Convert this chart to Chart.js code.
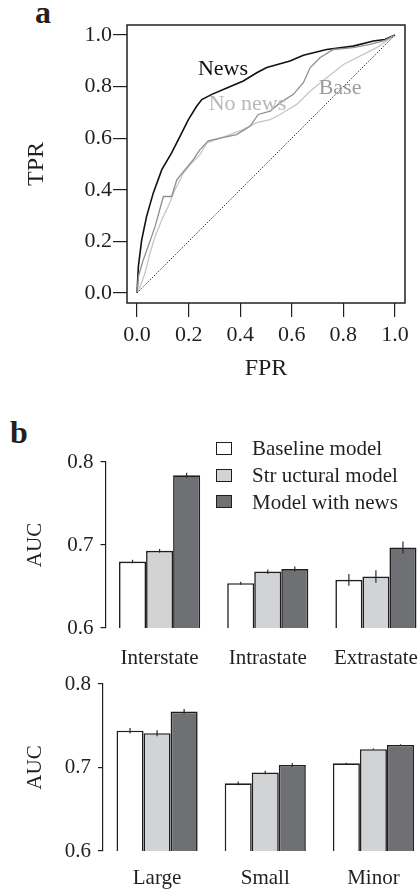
<!DOCTYPE html>
<html>
<head>
<meta charset="utf-8">
<script src="https://cdn.jsdelivr.net/npm/chart.js@4.4.1/dist/chart.umd.min.js"></script>
<style>
  html, body { margin: 0; padding: 0; background: #fff; overflow: hidden; width: 419px; height: 890px; }
  body { position: relative; font-family: "Liberation Serif", "Times New Roman", serif; color: #231f20; }
  canvas { position: absolute; left: 0; }
  .tag { position: absolute; font-weight: bold; font-size: 32px; line-height: 1; }
  .leg-box { position: absolute; left: 216px; width: 14px; height: 11px; border: 1.5px solid #1e1e1e; }
  .leg-text { position: absolute; left: 252px; height: 26px; line-height: 26px; font-size: 21px; white-space: nowrap; }
</style>
</head>
<body>
<div class="tag" style="left:35px; top:-4px;">a</div>
<div class="tag" style="left:10px; top:416px;">b</div>
<canvas id="rocChart" width="419" height="390" style="top:0;"></canvas>
<canvas id="typeChart" width="440" height="270" style="top:400px;"></canvas>
<canvas id="sizeChart" width="440" height="240" style="top:650px;"></canvas>
<div id="legend"></div>
<script>
// ---- panel a: ROC curves ----
const fprTicks = [0, 0.2, 0.4, 0.6, 0.8, 1.0];
const tprTicks = [0, 0.2, 0.4, 0.6, 0.8, 1.0];

const newsFpr = [0, 0.005, 0.018, 0.037, 0.063, 0.096, 0.134, 0.167, 0.199, 0.231, 0.251, 0.29, 0.348, 0.412, 0.464, 0.503, 0.593, 0.645, 0.735, 0.838, 0.916, 0.961, 1];
const newsTpr = [0, 0.102, 0.206, 0.297, 0.388, 0.478, 0.543, 0.608, 0.672, 0.724, 0.75, 0.77, 0.795, 0.822, 0.854, 0.874, 0.899, 0.922, 0.944, 0.957, 0.977, 0.983, 1];

const baseFpr = [0, 0.005, 0.024, 0.05, 0.07, 0.102, 0.134, 0.154, 0.186, 0.218, 0.244, 0.276, 0.322, 0.386, 0.438, 0.47, 0.516, 0.554, 0.606, 0.645, 0.671, 0.709, 0.761, 0.838, 0.903, 0.955, 1];
const baseTpr = [0, 0.063, 0.128, 0.2, 0.258, 0.374, 0.374, 0.439, 0.478, 0.517, 0.556, 0.59, 0.6, 0.614, 0.646, 0.692, 0.705, 0.737, 0.77, 0.815, 0.873, 0.912, 0.944, 0.951, 0.964, 0.977, 1];

const noNewsFpr = [0, 0.012, 0.031, 0.05, 0.07, 0.096, 0.121, 0.147, 0.18, 0.212, 0.244, 0.27, 0.309, 0.36, 0.412, 0.464, 0.516, 0.554, 0.619, 0.671, 0.735, 0.8, 0.864, 0.929, 1];
const noNewsTpr = [0, 0.025, 0.077, 0.154, 0.219, 0.284, 0.336, 0.4, 0.465, 0.504, 0.536, 0.582, 0.595, 0.614, 0.634, 0.66, 0.672, 0.692, 0.731, 0.782, 0.834, 0.886, 0.918, 0.951, 1];

const chanceFpr = [0, 1];
const chanceTpr = [0, 1];

// ---- panel b: AUC bars ----
const seriesNames = ['Baseline model', 'Str uctural model', 'Model with news'];
const aucTicks = [0.6, 0.7, 0.8];

const typeGroups = ['Interstate', 'Intrastate', 'Extrastate'];
const typeBaseline = [0.680, 0.654, 0.658];
const typeStructural = [0.693, 0.668, 0.662];
const typeNews = [0.784, 0.671, 0.697];
const typeBaselineErr = [0.0022, 0.0018, 0.0070];
const typeStructuralErr = [0.0022, 0.0025, 0.0075];
const typeNewsErr = [0.0030, 0.0030, 0.0072];

const sizeGroups = ['Large', 'Small', 'Minor'];
const sizeBaseline = [0.744, 0.681, 0.705];
const sizeStructural = [0.741, 0.694, 0.722];
const sizeNews = [0.767, 0.703, 0.727];
const sizeBaselineErr = [0.0034, 0.0022, 0.0008];
const sizeStructuralErr = [0.0036, 0.0022, 0.0008];
const sizeNewsErr = [0.0030, 0.0025, 0.0008];

const INK = '#231f20';
const SERIF = '"Liberation Serif", "Times New Roman", serif';
const barFills = ['#ffffff', '#d2d3d5', '#6f7074'];

function toPoints(xs, ys) {
    return xs.map((x, i) => ({ x: x, y: ys[i] }));
}

// frame round the plot area (R box())
const framePlugin = {
    id: 'frame',
    afterDraw(chart) {
        const a = chart.chartArea;
        const ctx = chart.ctx;
        ctx.save();
        ctx.strokeStyle = INK;
        ctx.lineWidth = 1.5;
        ctx.strokeRect(a.left, a.top, a.right - a.left, a.bottom - a.top);
        ctx.restore();
    }
};

// curve names written on the plot
const curveLabelPlugin = {
    id: 'curveLabels',
    afterDatasetsDraw(chart, args, opts) {
        const ctx = chart.ctx;
        ctx.save();
        ctx.font = '22px ' + SERIF;
        ctx.textAlign = 'center';
        ctx.textBaseline = 'middle';
        opts.items.forEach(item => {
            ctx.fillStyle = item.color;
            ctx.fillText(item.text, chart.scales.x.getPixelForValue(item.x), chart.scales.y.getPixelForValue(item.y));
        });
        ctx.restore();
    }
};

new Chart(document.getElementById('rocChart'), {
    type: 'scatter',
    data: {
        datasets: [
            { label: 'Chance', data: toPoints(chanceFpr, chanceTpr), borderColor: '#333', borderWidth: 1, borderDash: [1.5, 1.5] },
            { label: 'Base', data: toPoints(baseFpr, baseTpr), borderColor: '#8e8e8e', borderWidth: 1.3 },
            { label: 'No news', data: toPoints(noNewsFpr, noNewsTpr), borderColor: '#c6c6c6', borderWidth: 1.3 },
            { label: 'News', data: toPoints(newsFpr, newsTpr), borderColor: '#111', borderWidth: 1.6 }
        ].map(ds => Object.assign(ds, { showLine: true, pointRadius: 0, fill: false, tension: 0 }))
    },
    options: {
        responsive: false,
        animation: false,
        layout: { padding: { top: 25, right: 14, left: 0, bottom: 0 } },
        plugins: {
            legend: { display: false },
            tooltip: { enabled: false },
            curveLabels: {
                items: [
                    { text: 'News', x: 0.333, y: 0.867, color: '#111' },
                    { text: 'No news', x: 0.428, y: 0.731, color: '#b8b8b8' },
                    { text: 'Base', x: 0.787, y: 0.793, color: '#9c9c9c' }
                ]
            }
        },
        scales: {
            x: {
                type: 'linear', min: -0.039, max: 1.039,
                afterBuildTicks: s => { s.ticks = fprTicks.map(v => ({ value: v })); },
                afterFit: s => { s.height = 87; },
                ticks: { callback: v => v.toFixed(1), color: INK, font: { family: SERIF, size: 22 }, padding: 5, maxRotation: 0 },
                grid: { drawOnChartArea: false, drawTicks: true, tickLength: 14, color: INK, lineWidth: 1.2 },
                border: { display: false },
                title: { display: true, text: 'FPR', color: INK, font: { family: SERIF, size: 24 }, padding: { top: 0, bottom: 7 } }
            },
            y: {
                type: 'linear', min: -0.039, max: 1.039,
                afterBuildTicks: s => { s.ticks = tprTicks.map(v => ({ value: v })); },
                afterFit: s => { s.width = 127; },
                ticks: { callback: v => v.toFixed(1), color: INK, font: { family: SERIF, size: 22 }, padding: 1 },
                grid: { drawOnChartArea: false, drawTicks: true, tickLength: 14, color: INK, lineWidth: 1.2 },
                border: { display: false },
                title: { display: true, text: 'TPR', color: INK, font: { family: SERIF, size: 24 }, padding: { top: 22, bottom: 0 } }
            }
        }
    },
    plugins: [framePlugin, curveLabelPlugin]
});

// vertical error segments on each bar
const errorBarPlugin = {
    id: 'errorBars',
    afterDatasetsDraw(chart) {
        const ctx = chart.ctx;
        const y = chart.scales.y;
        ctx.save();
        ctx.strokeStyle = '#2a2a2a';
        ctx.lineWidth = 1.2;
        chart.data.datasets.forEach((ds, di) => {
            const meta = chart.getDatasetMeta(di);
            ds.errors.forEach((e, i) => {
                const x = meta.data[i].x;
                ctx.beginPath();
                ctx.moveTo(x, y.getPixelForValue(ds.data[i] - e));
                ctx.lineTo(x, y.getPixelForValue(ds.data[i] + e));
                ctx.stroke();
            });
        });
        ctx.restore();
    }
};

function makeBars(id, groups, values, errors, box) {
    new Chart(document.getElementById(id), {
        type: 'bar',
        data: {
            labels: groups,
            datasets: values.map((vals, k) => ({
                label: seriesNames[k],
                data: vals,
                errors: errors[k],
                backgroundColor: barFills[k],
                borderColor: '#1e1e1e',
                borderWidth: 1.6,
                borderSkipped: false,
                barPercentage: 1.0,
                categoryPercentage: 0.75
            }))
        },
        options: {
            responsive: false,
            animation: false,
            layout: { padding: { top: box.top, right: box.right, left: 0, bottom: 0 } },
            plugins: { legend: { display: false }, tooltip: { enabled: false } },
            scales: {
                x: {
                    afterFit: s => { s.height = box.xHeight; },
                    ticks: { color: INK, font: { family: SERIF, size: 21 }, padding: box.labelPad, maxRotation: 0 },
                    grid: { display: false },
                    border: { display: false }
                },
                y: {
                    min: 0.6, max: 0.8,
                    afterBuildTicks: s => { s.ticks = aucTicks.map(v => ({ value: v })); },
                    afterFit: s => { s.width = box.left; },
                    ticks: { callback: v => v.toFixed(1), color: INK, font: { family: SERIF, size: 21 }, padding: 7 },
                    grid: { drawOnChartArea: false, drawTicks: true, tickLength: 5, color: INK, lineWidth: 1.2 },
                    border: { display: true, color: INK, width: 1.2 },
                    title: { display: true, text: 'AUC', color: INK, font: { family: SERIF, size: 21 }, padding: { top: 23, bottom: 0 } }
                }
            }
        },
        plugins: [errorBarPlugin]
    });
}

makeBars('typeChart', typeGroups,
    [typeBaseline, typeStructural, typeNews],
    [typeBaselineErr, typeStructuralErr, typeNewsErr],
    { top: 62, right: 10, left: 105.5, xHeight: 42, labelPad: 10 });

makeBars('sizeChart', sizeGroups,
    [sizeBaseline, sizeStructural, sizeNews],
    [sizeBaselineErr, sizeStructuralErr, sizeNewsErr],
    { top: 34, right: 12.5, left: 103, xHeight: 39, labelPad: 6.5 });

// legend for panel b
const legend = document.getElementById('legend');
seriesNames.forEach((name, k) => {
    const box = document.createElement('div');
    box.className = 'leg-box';
    box.style.top = (442 + k * 26.5) + 'px';
    box.style.background = barFills[k];
    legend.appendChild(box);
    const txt = document.createElement('div');
    txt.className = 'leg-text';
    txt.style.top = (435 + k * 27) + 'px';
    txt.textContent = name;
    legend.appendChild(txt);
});
</script>
</body>
</html>
